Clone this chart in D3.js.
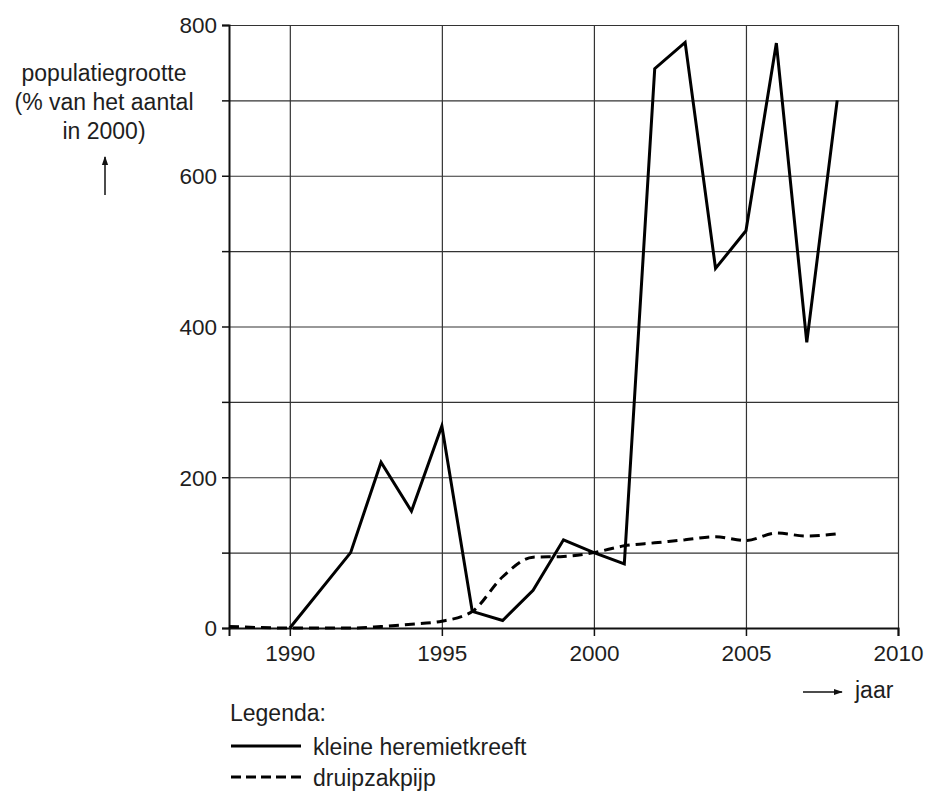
<!DOCTYPE html>
<html><head><meta charset="utf-8">
<script src="https://cdn.jsdelivr.net/npm/d3@7"></script>
<style>body{margin:0;background:#fff}svg{display:block}text{font-family:"Liberation Sans",Arial,sans-serif;fill:#1e1e1e}</style>
</head><body>
<script>
const heremietYears = [1990,1992,1993,1994,1995,1996,1997,1998,1999,2000,2001,2002,2003,2004,2005,2006,2007,2008];
const heremietValues = [0,100,220,155,268,22,10,50,117,100,85,742,777,477,527,776,379,700];
const druipYears = [1988,1990,1991,1992,1993,1994,1995,1996,1997,1998,1999,2000,2001,2002,2003,2004,2005,2006,2007,2008];
const druipValues = [2,0,0,0,2,5,9,22,68,94,95,100,109,113,117,121,116,126,122,125];
const xTicks = [1990,1995,2000,2005,2010];
const yTicks = [0,200,400,600,800];
const yLabelLines = ["populatiegrootte","(% van het aantal","in 2000)"];
const legendItems = ["kleine heremietkreeft","druipzakpijp"];

const W=925,H=796;
const L=229,R=898,T=25,B=628;
const svg=d3.select("body").append("svg").attr("width",W).attr("height",H);
const x=d3.scaleLinear().domain([1988,2010]).range([L,R]);
const y=d3.scaleLinear().domain([0,800]).range([B,T]);

// grid
const g=svg.append("g");
g.selectAll(".hg").data(d3.range(100,801,100)).join("line")
 .attr("x1",L).attr("x2",R).attr("y1",d=>y(d)+0.5).attr("y2",d=>y(d)+0.5)
 .attr("stroke","#333").attr("stroke-width",1.2);
g.selectAll(".vg").data(xTicks).join("line")
 .attr("x1",d=>x(d)+0.5).attr("x2",d=>x(d)+0.5).attr("y1",T).attr("y2",B)
 .attr("stroke","#333").attr("stroke-width",1.2);

// axes
const xAxis=d3.axisBottom(x).tickValues(xTicks).tickFormat(d3.format("d")).tickSize(8).tickPadding(4);
const yAxis=d3.axisLeft(y).tickValues(d3.range(0,801,100)).tickFormat(d=>yTicks.includes(d)?d:"").tickSize(7).tickPadding(5);
const gx=svg.append("g").attr("transform",`translate(0,${B})`).call(xAxis);
const gy=svg.append("g").attr("transform",`translate(${L},0)`).call(yAxis);
[gx,gy].forEach(a=>{a.select(".domain").attr("stroke","#111").attr("stroke-width",2);
 a.selectAll(".tick line").attr("stroke","#111").attr("stroke-width",1.5);
 a.selectAll("text").style("font-size","22.5px").attr("fill","#1e1e1e").style("font-family","'Liberation Sans',Arial,sans-serif");});
gx.selectAll("text").attr("dy","0.95em");
gy.selectAll("text").attr("dy","0.35em");

// data lines
const line=d3.line().x(d=>x(d[0])).y(d=>y(d[1]));
svg.append("path").datum(druipYears.map((d,i)=>[d,druipValues[i]]))
 .attr("d",line.curve(d3.curveMonotoneX)).attr("fill","none").attr("stroke","#000")
 .attr("stroke-width",3).attr("stroke-dasharray","10,6");
svg.append("path").datum(heremietYears.map((d,i)=>[d,heremietValues[i]]))
 .attr("d",d3.line().x(d=>x(d[0])).y(d=>y(d[1]))).attr("fill","none").attr("stroke","#000")
 .attr("stroke-width",3).attr("stroke-linejoin","miter");

// y label
svg.append("g").selectAll("text").data(yLabelLines).join("text")
 .attr("x",104).attr("y",(d,i)=>81+i*29).attr("text-anchor","middle").style("font-size","23px").text(d=>d);
// arrows
const defs=svg.append("defs");
defs.append("marker").attr("id","ah").attr("viewBox","0 0 10 10").attr("refX",9).attr("refY",5)
 .attr("markerWidth",9).attr("markerHeight",9).attr("markerUnits","userSpaceOnUse").attr("orient","auto")
 .append("path").attr("d","M0,1.5L10,5L0,8.5Z").attr("fill","#111");
svg.append("line").attr("x1",105).attr("x2",105).attr("y1",195).attr("y2",157).attr("stroke","#111").attr("stroke-width",1.5).attr("marker-end","url(#ah)");
svg.append("line").attr("x1",803).attr("x2",842).attr("y1",692).attr("y2",692).attr("stroke","#111").attr("stroke-width",1.5).attr("marker-end","url(#ah)");
svg.append("text").attr("x",855).attr("y",698).style("font-size","23px").text("jaar");

// legend
svg.append("text").attr("x",230).attr("y",721).style("font-size","23px").text("Legenda:");
const lg=svg.append("g");
const legY=[746,777];
lg.selectAll("line").data(legendItems).join("line")
 .attr("x1",231).attr("x2",301).attr("y1",(d,i)=>legY[i]).attr("y2",(d,i)=>legY[i])
 .attr("stroke","#000").attr("stroke-width",3).attr("stroke-dasharray",(d,i)=>i?"10,5":null);
lg.selectAll("text").data(legendItems).join("text")
 .attr("x",313).attr("y",(d,i)=>legY[i]+9).style("font-size","23px").text(d=>d);
</script>
</body></html>
